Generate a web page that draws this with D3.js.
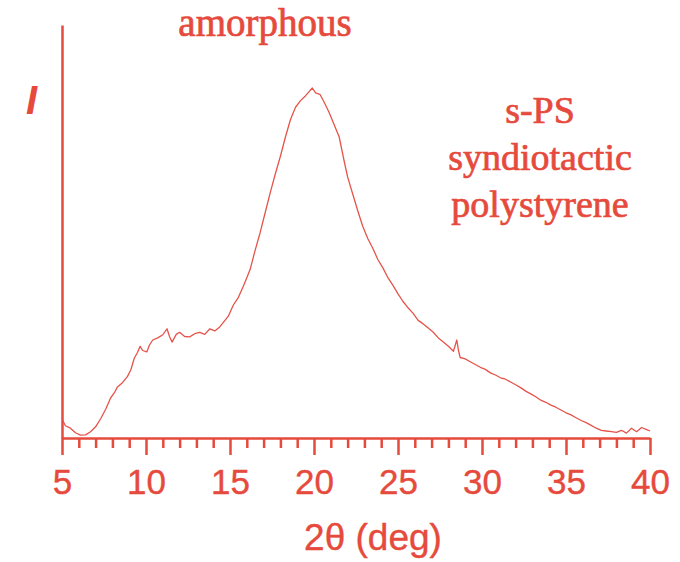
<!DOCTYPE html>
<html>
<head>
<meta charset="utf-8">
<script src="https://cdn.jsdelivr.net/npm/d3@7"></script>
<style>
  body { margin: 0; background: #fff; }
  svg { display: block; }
</style>
</head>
<body>
<div id="chart"></div>
<script>
// s-PS (syndiotactic polystyrene), amorphous WAXD pattern

// data: 2theta (deg) and intensity (peak = 100)
var twoTheta = [5.0, 5.2, 5.5, 5.8, 6.1, 6.4, 6.7, 7.0, 7.3, 7.6, 7.9, 8.1, 8.3, 8.6, 8.9, 9.1, 9.3, 9.5, 9.65, 9.8,
    10.05, 10.2, 10.4, 10.7, 11.0, 11.25, 11.4, 11.55, 11.8, 12.0, 12.3, 12.6, 12.9, 13.2, 13.5, 13.8, 14.1, 14.4, 14.7, 14.9,
    15.2, 15.5, 15.8, 16.0, 16.2, 16.5, 16.8, 17.1, 17.4, 17.7, 18.0, 18.3, 18.6, 18.9, 19.2, 19.5, 19.75, 19.9, 20.1, 20.35,
    20.6, 20.9, 21.2, 21.5, 21.8, 22.0, 22.3, 22.6, 22.9, 23.2, 23.5, 23.8, 24.1, 24.4, 24.7, 25.0, 25.3, 25.6, 25.9, 26.2,
    26.5, 26.8, 27.1, 27.4, 27.7, 28.0, 28.3, 28.5, 28.6, 28.7, 29.0, 29.3, 29.6, 29.9, 30.2, 30.5, 30.8, 31.1, 31.4, 31.7,
    32.0, 32.3, 32.6, 32.9, 33.2, 33.5, 33.8, 34.1, 34.4, 34.7, 35.0, 35.3, 35.6, 35.9, 36.2, 36.5, 36.8, 37.1, 37.4, 37.7,
    38.0, 38.3, 38.6, 38.9, 39.2, 39.5, 39.8, 40.0];
var intensity = [5.5, 3.5, 2.8, 1.5, 0.8, 0.9, 1.8, 3.2, 5.5, 8.2, 11.5, 12.8, 14.6, 15.8, 17.6, 19.5, 22.8, 24.5, 26.2, 25.0,
    24.6, 26.5, 28.0, 28.6, 29.5, 31.2, 29.0, 27.4, 29.6, 30.2, 29.0, 28.9, 29.8, 30.2, 29.6, 31.2, 30.6, 31.8, 33.6, 34.8,
    38.0, 40.2, 43.4, 45.8, 48.2, 53.7, 58.8, 64.5, 70.2, 75.5, 80.5, 86.0, 91.0, 94.5, 96.4, 97.8, 99.2, 100, 98.6, 98.2,
    96.0, 93.0, 89.5, 86.0, 79.0, 74.6, 69.8, 65.0, 60.5, 57.0, 54.2, 51.0, 48.6, 45.8, 43.6, 41.2, 39.0, 37.2, 35.6, 33.6,
    32.6, 31.4, 30.2, 28.6, 27.4, 26.2, 24.8, 28.0, 25.0, 23.0, 22.6, 21.8, 21.0, 20.2, 19.6, 18.6, 18.0, 17.2, 16.8, 16.0,
    15.2, 14.4, 13.4, 12.6, 11.8, 10.8, 10.2, 9.4, 8.8, 8.0, 7.2, 6.6, 5.8, 5.0, 4.4, 3.6, 2.8, 2.2, 2.0, 1.8,
    1.6, 2.2, 1.4, 2.8, 1.8, 3.0, 2.4, 2.0];

// axis ticks
var majorTicks = [5, 10, 15, 20, 25, 30, 35, 40];
var minorTicks = d3.range(5, 41, 1).filter(function(v) { return v % 5 != 0; });

// labels
var xTitle = "2\u03b8 (deg)";
var yTitle = "I";
var topNote = "amorphous";
var sideNote = ["s-PS", "syndiotactic", "polystyrene"];

const width = 680,
    height = 562,
    red = "#e64a3c",      // text and axes
    lineRed = "#e5544a";  // curve

var svg = d3.select("#chart").append("svg")
    .attr("width", width)
    .attr("height", height);

// scales
var x = d3.scaleLinear().domain([5, 40]).range([62, 650]);
var y = d3.scaleLinear().domain([0, 118]).range([438, 25]);

// minor ticks first, major on top
var minorAxis = svg.append("g")
    .attr("transform", "translate(0," + y(0) + ")")
    .call(d3.axisBottom(x).tickValues(minorTicks).tickSize(10).tickSizeOuter(0).tickFormat(""));
minorAxis.select(".domain").remove();
minorAxis.selectAll("line").attr("stroke", red).attr("stroke-width", 2.5);

var majorAxis = svg.append("g")
    .attr("transform", "translate(0," + y(0) + ")")
    .call(d3.axisBottom(x).tickValues(majorTicks).tickSize(17).tickSizeOuter(0).tickPadding(14));
majorAxis.select(".domain").attr("stroke", red).attr("stroke-width", 2.5);
majorAxis.selectAll("line").attr("stroke", red).attr("stroke-width", 2.5);
majorAxis.selectAll("text")
    .attr("fill", red)
    .attr("stroke", red)
    .attr("stroke-width", 0.4)
    .style("font-family", "'Liberation Sans', Arial, sans-serif")
    .style("font-size", "35px");

// y axis: just the line, no ticks
var yAxis = svg.append("g")
    .attr("transform", "translate(" + x(5) + ",0)")
    .call(d3.axisLeft(y).tickValues([]).tickSizeOuter(0));
yAxis.select(".domain").attr("stroke", red).attr("stroke-width", 2.5);

// curve
var pts = twoTheta.map(function(t, i) { return [t, intensity[i]]; });
var line = d3.line()
    .x(function(d) { return x(d[0]); })
    .y(function(d) { return y(d[1]); });
svg.append("path")
    .datum(pts)
    .attr("d", line)
    .attr("fill", "none")
    .attr("stroke", lineRed)
    .attr("stroke-width", 1.3)
    .attr("stroke-linejoin", "round");

// titles
svg.append("text")
    .attr("x", 373)
    .attr("y", 550)
    .attr("text-anchor", "middle")
    .attr("fill", red)
    .attr("stroke", red)
    .attr("stroke-width", 0.4)
    .style("font-family", "'Liberation Sans', Arial, sans-serif")
    .style("font-size", "37px")
    .text(xTitle);

svg.append("text")
    .attr("x", 26)
    .attr("y", 114)
    .attr("fill", red)
    .style("font-family", "'Liberation Sans', Arial, sans-serif")
    .style("font-size", "40px")
    .style("font-style", "italic")
    .style("font-weight", "bold")
    .text(yTitle);

// serif notes, a thin stroke makes them as heavy as the scan
var serif = "'Liberation Serif', 'Times New Roman', serif";
svg.append("text")
    .attr("x", 265)
    .attr("y", 36)
    .attr("text-anchor", "middle")
    .attr("fill", red)
    .attr("stroke", red)
    .attr("stroke-width", 0.7)
    .style("font-family", serif)
    .style("font-size", "39px")
    .text(topNote);

svg.append("g").selectAll("text")
    .data(sideNote)
    .enter().append("text")
    .attr("x", 540)
    .attr("y", function(d, i) { return 123 + i * 47; })
    .attr("text-anchor", "middle")
    .attr("fill", red)
    .attr("stroke", red)
    .attr("stroke-width", 0.7)
    .style("font-family", serif)
    .style("font-size", "38px")
    .text(function(d) { return d; });
</script>
</body>
</html>
